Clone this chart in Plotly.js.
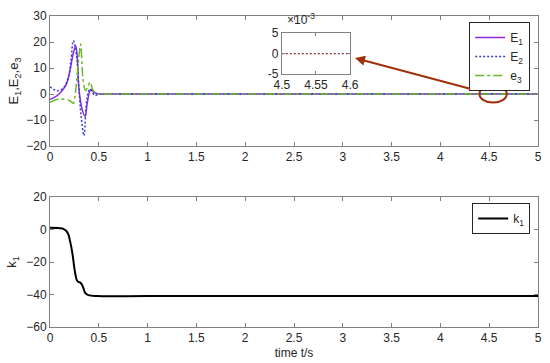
<!DOCTYPE html>
<html><head><meta charset="utf-8">
<script src="https://cdn.plot.ly/plotly-3.0.1.min.js"></script>
<style>body{margin:0;background:#fff}#c{width:550px;height:363px}</style>
</head><body><div id="c"></div>
<script>
const tE1 = [0,0.05,0.1,0.137,0.17,0.205,0.235,0.263,0.28,0.29,0.307,0.33,0.359,0.38,0.403,0.42,0.45,0.5,0.6,1,2,3,4,5];
const E1  = [-2,-1.2,0.3,1.9,4,9,15,18.6,14,5,-1.3,-6,-8.7,-4,0.6,1.8,0.6,0,0,0,0,0,0,0];
const tE2 = [0,0.07,0.137,0.188,0.215,0.239,0.26,0.28,0.3,0.32,0.348,0.365,0.38,0.41,0.46,0.5,0.6,1,2,3,4,5];
const E2  = [2.8,1.3,2.3,6.4,13,20.5,18,11.5,0,-9,-16,-8,-1.3,1.9,-0.6,0,0,0,0,0,0,0];
const te3 = [0,0.1,0.205,0.239,0.255,0.273,0.295,0.314,0.327,0.34,0.365,0.39,0.41,0.444,0.495,0.6,1,2,3,4,5];
const e3  = [-3.2,-1.9,-2.6,-3.6,-1,5,14,19.2,12,5,1.3,3,4.5,1.3,0,0,0,0,0,0,0];
const tk1 = [0,0.1,0.137,0.165,0.188,0.205,0.223,0.235,0.247,0.26,0.274,0.29,0.308,0.322,0.336,0.35,0.36,0.394,0.48,1,2,3,4,5];
const k1  = [1,0.8,0.4,-0.8,-3,-7,-12.4,-17,-22.7,-27.5,-31,-32.3,-32.6,-33.5,-35,-37.5,-39,-40.4,-41,-41,-41,-41,-41,-41];
const tZoom = [4.5,4.55,4.6];
const eZoom = [0,0,0];
const names = ['E<sub>1</sub>','E<sub>2</sub>','e<sub>3</sub>','k<sub>1</sub>'];

const axc = '#808080', tf = {family:'Liberation Sans, Arial, sans-serif', size:12, color:'#262626'};
const traces = [
 {x:tE1,y:E1,name:names[0],mode:'lines',line:{color:'#8a2be2',width:1.5,shape:'spline'},xaxis:'x',yaxis:'y',legend:'legend'},
 {x:tE2,y:E2,name:names[1],mode:'lines',line:{color:'#3a3acc',width:1.5,dash:'2px,2px',shape:'spline'},xaxis:'x',yaxis:'y',legend:'legend'},
 {x:te3,y:e3,name:names[2],mode:'lines',line:{color:'#66bb22',width:1.5,dash:'dashdot',shape:'spline'},xaxis:'x',yaxis:'y',legend:'legend'},
 {x:tk1,y:k1,name:names[3],mode:'lines',line:{color:'#000',width:2,shape:'spline'},xaxis:'x2',yaxis:'y2',legend:'legend2'},
 {x:tZoom,y:eZoom,mode:'lines',line:{color:'#8b3030',width:1.2,dash:'2px,2px'},xaxis:'x3',yaxis:'y3',showlegend:false}
];
const ax = (o)=>Object.assign({showline:true,linecolor:axc,linewidth:1,mirror:'ticks',ticks:'inside',tickcolor:axc,ticklen:4,showgrid:false,zeroline:false,tickfont:tf},o);
const layout = {
 width:550,height:363,margin:{l:50,r:12,t:16,b:36},paper_bgcolor:'#fff',plot_bgcolor:'#fff',
 font:tf,
 xaxis:ax({domain:[0,1],range:[0,5],dtick:0.5,anchor:'y'}),
 yaxis:ax({domain:[0.582,1],range:[-20,30],dtick:10,anchor:'x',title:{text:'E<sub>1</sub>,E<sub>2</sub>,e<sub>3</sub>',font:{size:13,color:'#262626'},standoff:4}}),
 xaxis2:ax({domain:[0,1],range:[0,5],dtick:0.5,anchor:'y2',title:{text:'time t/s',font:{size:12,color:'#262626'},standoff:4}}),
 yaxis2:ax({domain:[0,0.418],range:[-60,20],dtick:20,anchor:'x2',title:{text:'k<sub>1</sub>',font:{size:13,color:'#262626'},standoff:6}}),
 xaxis3:ax({domain:[0.475,0.615],range:[4.5,4.6],tickvals:[4.5,4.55,4.6],ticktext:['4.5','4.55','4.6'],anchor:'y3',ticklen:3}),
 yaxis3:ax({domain:[0.8135,0.945],range:[-0.005,0.005],tickvals:[-0.005,0,0.005],ticktext:['-5','0','5'],anchor:'x3',ticklen:3}),
 legend:{x:0.984,y:0.981,xanchor:'right',yanchor:'top',bgcolor:'#fff',bordercolor:'#262626',borderwidth:1,font:{size:12,color:'#262626'},itemwidth:30,tracegroupgap:0},
 legend2:{x:0.984,y:0.399,xanchor:'right',yanchor:'top',bgcolor:'#fff',bordercolor:'#262626',borderwidth:1,font:{size:12,color:'#262626'},itemwidth:30},
 shapes:[{type:'circle',xref:'x',yref:'y',x0:4.4,x1:4.68,y0:-3.3,y1:3.3,line:{color:'#a0300a',width:2}}],
 annotations:[
  {xref:'x',yref:'y',axref:'x',ayref:'y',x:3.125,y:13.8,ax:4.32,ay:1.9,showarrow:true,arrowcolor:'#a0300a',arrowwidth:2,arrowhead:2,arrowsize:1,text:''},
  {xref:'paper',yref:'paper',x:0.482,y:0.958,xanchor:'left',yanchor:'bottom',showarrow:false,text:'×10<sup>-3</sup>',font:{size:12,color:'#262626'}}
 ]
};
Plotly.newPlot('c',traces,layout,{displayModeBar:false,staticPlot:true});
</script></body></html>
